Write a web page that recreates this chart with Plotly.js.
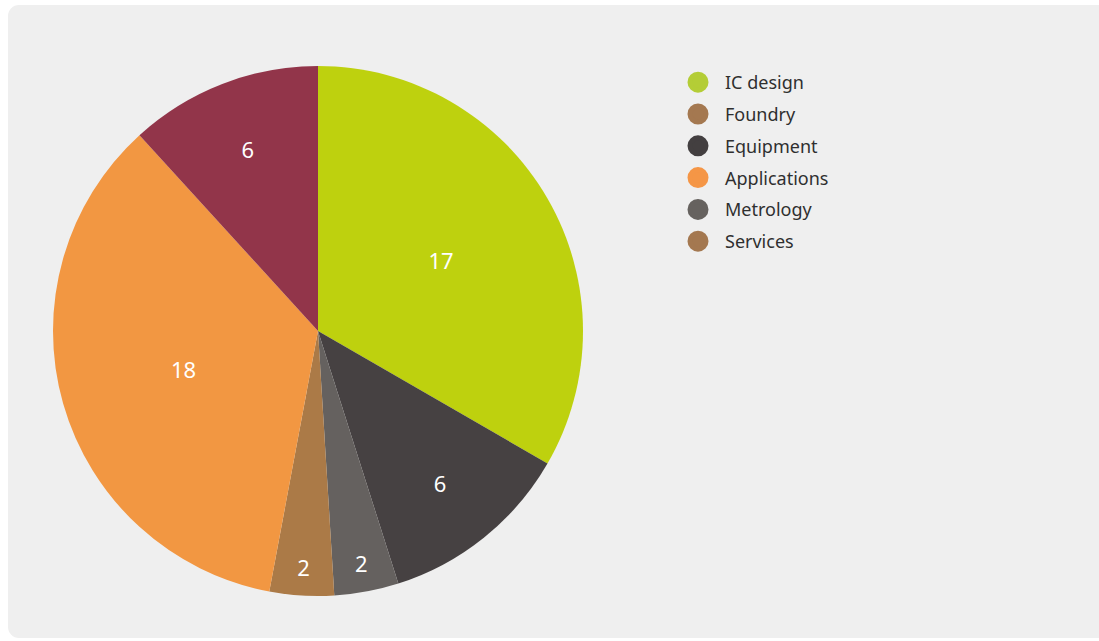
<!DOCTYPE html>
<html>
<head>
<meta charset="utf-8">
<script src="https://cdn.plot.ly/plotly-3.0.1.min.js"></script>
<style>
html,body{margin:0;padding:0;background:#ffffff;width:1099px;height:641px;overflow:hidden;}
#card{position:absolute;left:8px;top:5px;width:1110px;height:633px;background:#efefef;border-radius:11px;}
#chart{position:absolute;left:0;top:0;width:1099px;height:641px;}
</style>
</head>
<body>
<div id="card"></div>
<div id="chart"></div>
<script>
// Pie slices (clockwise from 12 o'clock)
const sliceLabels = ["IC design", "Equipment", "Metrology", "Services", "Applications", "Foundry"];
const sliceValues = [17, 6, 2, 2, 18, 6];
const sliceColors = ["#bed10e", "#464142", "#65615f", "#ab7a47", "#f29742", "#92354a"];

// Legend entries as shown in the reference
const legendLabels = ["IC design", "Foundry", "Equipment", "Applications", "Metrology", "Services"];
const legendColors = ["#b4cd36", "#a47850", "#433f40", "#f59646", "#66625f", "#a47850"];

const pieTrace = {
  type: "pie",
  labels: sliceLabels,
  values: sliceValues,
  sort: false,
  direction: "clockwise",
  rotation: 0,
  marker: {colors: sliceColors, line: {width: 0}},
  textinfo: "value",
  textposition: "inside",
  insidetextorientation: "horizontal",
  textfont: {family: "Noto Sans, sans-serif", size: 22, color: "#ffffff"},
  hoverinfo: "label+value",
  showlegend: false,
  domain: {x: [53/1099, 583/1099], y: [45/641, 575/641]}
};

const legendTraces = legendLabels.map((name, i) => ({
  type: "scatter",
  mode: "markers",
  x: [null],
  y: [null],
  name: name,
  legendgroup: "g" + i,
  marker: {color: legendColors[i], size: 16, symbol: "circle",
           line: {color: legendColors[i], width: 5}},
  hoverinfo: "skip"
}));

const layout = {
  width: 1099,
  height: 641,
  margin: {l: 0, r: 0, t: 0, b: 0},
  paper_bgcolor: "rgba(0,0,0,0)",
  plot_bgcolor: "rgba(0,0,0,0)",
  xaxis: {visible: false, domain: [0.7, 0.71]},
  yaxis: {visible: false},
  showlegend: true,
  legend: {
    x: 671/1099, xanchor: "left",
    y: (641 - 64)/641, yanchor: "top",
    bgcolor: "rgba(0,0,0,0)",
    itemwidth: 44,
    tracegroupgap: 5.4,
    traceorder: "grouped",
    font: {family: "Noto Sans, sans-serif", size: 18, color: "#2f2f2f"}
  },
  font: {family: "Noto Sans, sans-serif"}
};

Plotly.newPlot("chart", [pieTrace].concat(legendTraces), layout, {displayModeBar: false, staticPlot: true});
</script>
</body>
</html>
